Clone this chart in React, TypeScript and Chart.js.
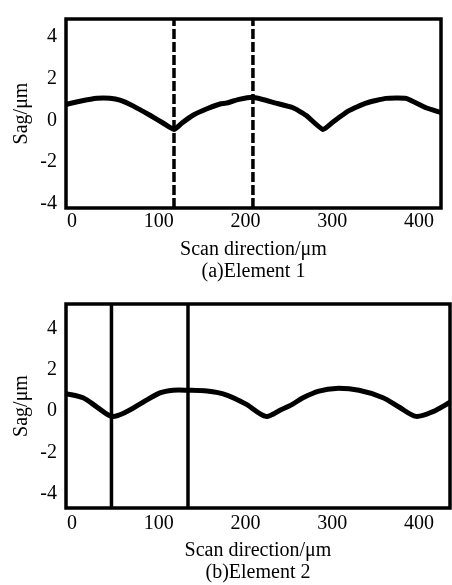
import React, { useEffect, useRef } from 'react';
import { Chart, registerables } from 'chart.js';

Chart.register(...registerables);

// ---- data ----
const xTickValues = [0, 100, 200, 300, 400];
const yTickValues = [-4, -2, 0, 2, 4];

// (a) Element 1
const scan1 = [-6.9, 9.2, 28.8, 43.8, 55.3, 70.3, 89.9, 104.9, 117.6, 126.8, 139.5, 155.6, 170.6, 177.5, 192.5, 208.6, 235.2, 254.8, 269.7, 289.3, 300.9, 319.3, 338.9, 361.9, 385.0, 408.1, 425.4];
const sag1 = [0.76, 0.91, 1.05, 1.05, 0.96, 0.69, 0.24, -0.13, -0.44, -0.13, 0.24, 0.55, 0.78, 0.82, 1.0, 1.1, 0.82, 0.6, 0.24, -0.44, -0.08, 0.46, 0.82, 1.05, 1.05, 0.6, 0.37];
const cuts1 = [117.6, 208.6];
const xRange1 = [-6.9, 425.4];
const yRange1 = [-4.2, 4.85];

// (b) Element 2
const scan2 = [-6.9, 12.7, 28.8, 46.1, 63.4, 81.8, 101.4, 116.4, 133.7, 155.6, 177.5, 200.6, 223.6, 240.9, 252.4, 266.3, 284.7, 304.3, 330.8, 358.5, 376.9, 396.5, 416.1, 435.7];
const sag2 = [0.85, 0.65, 0.2, -0.25, -0.02, 0.43, 0.88, 1.01, 1.01, 0.97, 0.79, 0.34, -0.25, 0.07, 0.29, 0.65, 0.97, 1.1, 1.01, 0.65, 0.2, -0.25, -0.02, 0.43];
const cuts2 = [45.5, 133.7];
const xRange2 = [-6.9, 435.7];
const yRange2 = [-4.67, 5.17];

const FONT = '"Liberation Serif", "DejaVu Serif", serif';

const framePlugin = {
  id: 'frame',
  afterDatasetsDraw(chart: any) {
    const { ctx, chartArea } = chart;
    const { left, top, right, bottom } = chartArea;
    ctx.save();
    ctx.strokeStyle = '#000';
    ctx.lineWidth = 3.5;
    ctx.strokeRect(left, top, right - left, bottom - top);
    ctx.restore();
  },
};

interface PanelProps {
  width: number;
  height: number;
  scan: number[];
  sag: number[];
  cuts: number[];
  xRange: number[];
  yRange: number[];
  dash: number[];
  curveWidth: number;
  tension: number;
  caption: string;
  padTop: number;
  padRight: number;
  xAxisHeight: number;
  xTickPad: number;
  titlePadBottom: number;
}

function Panel(p: PanelProps) {
  const ref = useRef<HTMLCanvasElement | null>(null);
  useEffect(() => {
    if (!ref.current) return;
    const curve = p.scan.map((x, i) => ({ x, y: p.sag[i] }));
    const cutSets = p.cuts.map((c) => ({
      data: [
        { x: c, y: p.yRange[0] },
        { x: c, y: p.yRange[1] },
      ],
      borderColor: '#000',
      borderWidth: 3.5,
      borderDash: p.dash,
      pointRadius: 0,
      fill: false,
      tension: 0,
    }));
    const chart = new Chart(ref.current, {
      type: 'line',
      data: {
        datasets: [
          {
            data: curve,
            borderColor: '#000',
            borderWidth: p.curveWidth,
            pointRadius: 0,
            fill: false,
            tension: p.tension,
          },
          ...cutSets,
        ] as any,
      },
      options: {
        animation: false,
        responsive: false,
        devicePixelRatio: 1,
        layout: { padding: { top: p.padTop, right: p.padRight, left: 0, bottom: 0 } },
        plugins: { legend: { display: false }, tooltip: { enabled: false } },
        scales: {
          x: {
            type: 'linear',
            min: p.xRange[0],
            max: p.xRange[1],
            grid: { display: false, drawTicks: false },
            border: { display: false },
            afterBuildTicks: (s: any) => {
              s.ticks = xTickValues.map((v) => ({ value: v }));
            },
            afterFit: (s: any) => {
              s.height = p.xAxisHeight;
            },
            ticks: {
              color: '#000',
              padding: p.xTickPad,
              maxRotation: 0,
              font: { family: FONT, size: 20, lineHeight: 1 },
            },
            title: {
              display: true,
              text: ['Scan direction/μm', p.caption],
              color: '#000',
              padding: { top: 0, bottom: p.titlePadBottom },
              font: { family: FONT, size: 20, lineHeight: 1.1 },
            },
          },
          y: {
            type: 'linear',
            min: p.yRange[0],
            max: p.yRange[1],
            grid: { display: false, drawTicks: false },
            border: { display: false },
            afterBuildTicks: (s: any) => {
              s.ticks = yTickValues.map((v) => ({ value: v }));
            },
            afterFit: (s: any) => {
              s.width = 66;
            },
            ticks: {
              color: '#000',
              padding: 9,
              font: { family: FONT, size: 20, lineHeight: 1 },
            },
            title: {
              display: true,
              text: 'Sag/μm',
              color: '#000',
              padding: { top: 12, bottom: 0 },
              font: { family: FONT, size: 20, lineHeight: 1 },
            },
          },
        },
      } as any,
      plugins: [framePlugin],
    });
    return () => chart.destroy();
  }, []);
  return (
    <canvas
      ref={ref}
      width={p.width}
      height={p.height}
      style={{ display: 'block', width: p.width, height: p.height }}
    />
  );
}

export default function App() {
  return (
    <div style={{ position: 'absolute', left: 0, top: 0, width: 452, height: 585, background: '#fff' }}>
      <Panel
        width={452}
        height={285}
        scan={scan1}
        sag={sag1}
        cuts={cuts1}
        xRange={xRange1}
        yRange={yRange1}
        dash={[10, 3]}
        curveWidth={5}
        tension={0.15}
        caption="(a)Element 1"
        padTop={8}
        padRight={11}
        xAxisHeight={77}
        xTickPad={4}
        titlePadBottom={2}
      />
      <Panel
        width={452}
        height={300}
        scan={scan2}
        sag={sag2}
        cuts={cuts2}
        xRange={xRange2}
        yRange={yRange2}
        dash={[]}
        curveWidth={5}
        tension={0.3}
        caption="(b)Element 2"
        padTop={4}
        padRight={2}
        xAxisHeight={77}
        xTickPad={6}
        titlePadBottom={1}
      />
    </div>
  );
}
